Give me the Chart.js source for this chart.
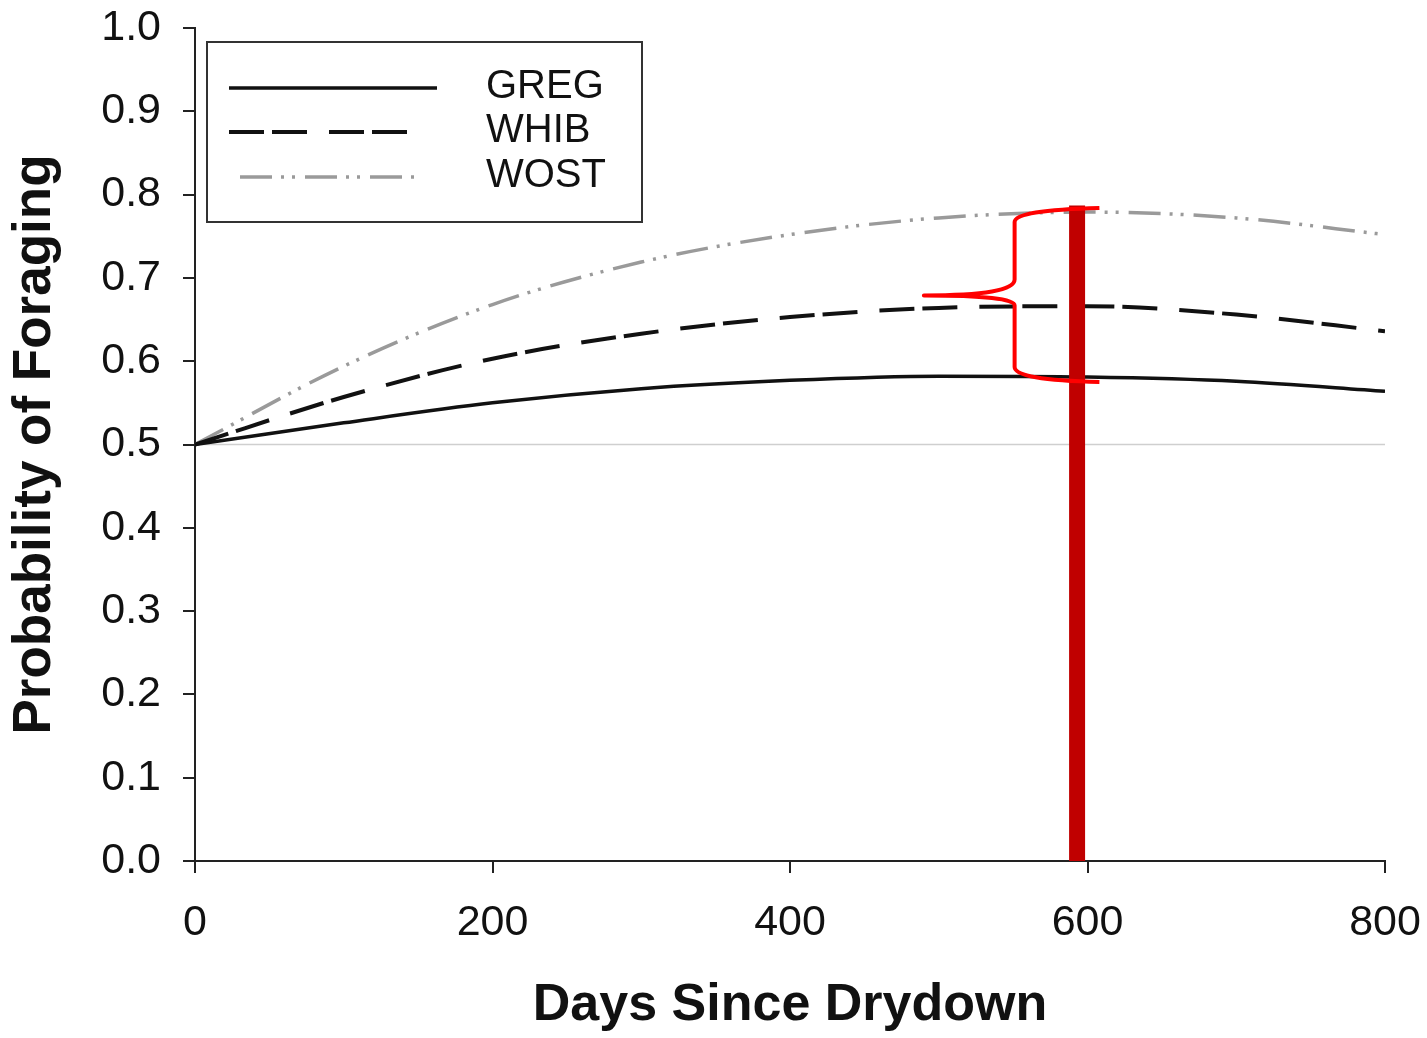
<!DOCTYPE html>
<html>
<head>
<meta charset="utf-8">
<script src="https://cdn.jsdelivr.net/npm/chart.js@4/dist/chart.umd.min.js"></script>
<style>
  html, body { margin: 0; padding: 0; background: #fff; }
  #wrap { width: 1427px; height: 1038px; position: relative; }
</style>
</head>
<body>
<div id="wrap"><canvas id="c" width="1427" height="1038"></canvas></div>
<script>
// ---- data ----
const days = [0, 100, 200, 300, 400, 500, 600, 700, 800];
const greg = [0.500, 0.526, 0.550, 0.567, 0.577, 0.582, 0.581, 0.576, 0.564];
const whib = [0.500, 0.557, 0.603, 0.633, 0.653, 0.664, 0.666, 0.656, 0.636];
const wost = [0.500, 0.594, 0.668, 0.719, 0.752, 0.772, 0.779, 0.772, 0.752];
const seriesNames = ['GREG', 'WHIB', 'WOST'];
const refLineX = [0, 800];
const refLineY = [0.5, 0.5];
const markerX = [593, 593];
const markerY = [0, 0.787];
// brace: [xEnd, xSpine, xTip] and [yTop, ySpineTop, yUpperJoin, yTip, yLowerJoin, ySpineBottom, yBottom]
const braceX = [608, 551, 490];
const braceY = [0.784, 0.767, 0.698, 0.679, 0.667, 0.593, 0.575];
const xTicks = [0, 200, 400, 600, 800];
const yTicks = [0, 0.1, 0.2, 0.3, 0.4, 0.5, 0.6, 0.7, 0.8, 0.9, 1.0];

const FONT = '"Liberation Sans", Arial, sans-serif';
const styles = [
  { color: '#111', width: 3.5, dash: [] },
  { color: '#111', width: 4, dash: [35, 8, 35, 22] },
  { color: '#9a9a9a', width: 3.5, dash: [32, 9, 3, 8, 3, 10] }
];

function pts(xs, ys) { return xs.map((x, i) => ({ x: x, y: ys[i] })); }
function zeroPad(s) { s.paddingTop = 0; s.paddingBottom = 0; s.paddingLeft = 0; s.paddingRight = 0; }

const bracePlugin = {
  id: 'brace',
  afterDatasetsDraw(chart) {
    const xs = chart.scales.x, ys = chart.scales.y, ctx = chart.ctx;
    const X = v => xs.getPixelForValue(v), Y = v => ys.getPixelForValue(v);
    const [xe, xsp, xt] = braceX.map(X);
    const [y0, y1, y2, y3, y4, y5, y6] = braceY.map(Y);
    ctx.save();
    ctx.strokeStyle = '#ff0000';
    ctx.lineWidth = 4;
    ctx.lineJoin = 'round';
    ctx.beginPath();
    ctx.moveTo(xe, y0);
    ctx.quadraticCurveTo(xsp, y0 + 2, xsp, y1);
    ctx.lineTo(xsp, y2);
    ctx.quadraticCurveTo(xsp, y3, xt, y3);
    ctx.quadraticCurveTo(xsp, y3, xsp, y4);
    ctx.lineTo(xsp, y5);
    ctx.quadraticCurveTo(xsp, y6 - 2, xe, y6);
    ctx.stroke();
    ctx.restore();
  }
};

const legendPlugin = {
  id: 'boxLegend',
  afterDraw(chart) {
    const ctx = chart.ctx;
    ctx.save();
    ctx.fillStyle = '#fff';
    ctx.fillRect(207, 42, 435, 180);
    ctx.strokeStyle = '#333';
    ctx.lineWidth = 2;
    ctx.strokeRect(207, 42, 435, 180);
    const rows = [
      { y: 88, x0: 229, x1: 437, ty: 87 },
      { y: 132, x0: 229, x1: 411, ty: 131 },
      { y: 177, x0: 240, x1: 415, ty: 176 }
    ];
    rows.forEach((r, i) => {
      const s = styles[i];
      ctx.beginPath();
      ctx.strokeStyle = s.color;
      ctx.lineWidth = s.width;
      ctx.lineCap = 'butt';
      ctx.setLineDash(s.dash);
      ctx.moveTo(r.x0, r.y);
      ctx.lineTo(r.x1, r.y);
      ctx.stroke();
      ctx.setLineDash([]);
      ctx.fillStyle = '#111';
      ctx.font = '40px ' + FONT;
      ctx.textBaseline = 'middle';
      ctx.textAlign = 'left';
      ctx.fillText(seriesNames[i], 486, r.ty);
    });
    ctx.restore();
  }
};

const seriesData = [greg, whib, wost];
const datasets = [
  {
    label: 'marker', data: pts(markerX, markerY), borderColor: '#c00000',
    borderWidth: 16, pointRadius: 0, borderCapStyle: 'butt', order: -1
  },
  {
    label: 'ref', data: pts(refLineX, refLineY), borderColor: '#cfcfcf',
    borderWidth: 1.5, pointRadius: 0, order: 10
  }
];
seriesNames.forEach((n, i) => {
  datasets.push({
    label: n, data: pts(days, seriesData[i]), borderColor: styles[i].color,
    borderWidth: styles[i].width, borderDash: styles[i].dash, pointRadius: 0,
    cubicInterpolationMode: 'monotone', borderCapStyle: 'butt', order: i
  });
});

new Chart(document.getElementById('c'), {
  type: 'line',
  data: { datasets: datasets },
  options: {
    responsive: false,
    animation: false,
    events: [],
    layout: { padding: { top: 28, right: 42, left: 0, bottom: 0 } },
    plugins: { legend: { display: false }, tooltip: { enabled: false } },
    scales: {
      x: {
        type: 'linear', min: 0, max: 800,
        afterFit: s => { s.height = 177; zeroPad(s); },
        afterBuildTicks: s => { s.ticks = xTicks.map(v => ({ value: v })); },
        grid: { drawOnChartArea: false, tickLength: 12, color: '#222', lineWidth: 2 },
        border: { display: true, color: '#222', width: 2 },
        ticks: { font: { family: FONT, size: 43 }, color: '#111', padding: 24, maxRotation: 0 },
        title: { display: true, text: 'Days Since Drydown', font: { family: FONT, size: 52, weight: 'bold' }, color: '#111', padding: { top: 0, bottom: 1 } }
      },
      y: {
        type: 'linear', min: 0, max: 1,
        afterFit: s => { s.width = 195; zeroPad(s); },
        afterBuildTicks: s => { s.ticks = yTicks.map(v => ({ value: v })); },
        grid: { drawOnChartArea: false, tickLength: 12, color: '#222', lineWidth: 2 },
        border: { display: true, color: '#222', width: 2 },
        ticks: { font: { family: FONT, size: 43 }, color: '#111', padding: 22, callback: v => v.toFixed(1) },
        title: { display: true, text: 'Probability of Foraging', font: { family: FONT, size: 53, weight: 'bold' }, color: '#111', padding: { top: 4, bottom: 0 } }
      }
    }
  },
  plugins: [bracePlugin, legendPlugin]
});
</script>
</body>
</html>
